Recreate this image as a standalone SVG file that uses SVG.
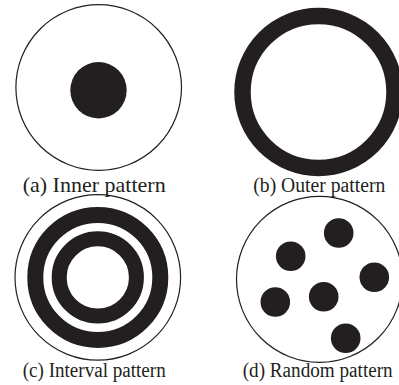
<svg xmlns="http://www.w3.org/2000/svg" width="399" height="385" viewBox="0 0 399 385">
  <style>
    .thin { fill: none; stroke: #231f20; stroke-width: 1.2; }
    .band { fill: none; stroke: #231f20; }
    .dot { fill: #231f20; }
    .lbl { font-family: "Liberation Serif", "Times New Roman", serif; font-size: 20px; fill: #231f20; }
  </style>
  <rect width="399" height="385" fill="#ffffff"/>
  <g id="panel-a">
    <circle class="thin" cx="98.7" cy="87.5" r="82.8"/>
    <circle class="dot" cx="98.5" cy="90.3" r="28.2"/>
    <text class="lbl" x="22.7" y="191.5" font-size="21.5" style="font-size:21.5px" textLength="143" lengthAdjust="spacingAndGlyphs">(a) Inner pattern</text>
  </g>
  <g id="panel-b">
    <circle class="band" cx="318.5" cy="92" r="76" stroke-width="16.5"/>
    <text class="lbl" x="253.3" y="191.5" textLength="132" lengthAdjust="spacingAndGlyphs">(b) Outer pattern</text>
  </g>
  <g id="panel-c">
    <circle class="thin" cx="97.8" cy="277.4" r="82.8"/>
    <circle class="band" cx="97.8" cy="277.4" r="62.5" stroke-width="16"/>
    <circle class="band" cx="97.8" cy="277.4" r="38.6" stroke-width="15"/>
    <text class="lbl" x="22.7" y="377" textLength="143" lengthAdjust="spacingAndGlyphs">(c) Interval pattern</text>
  </g>
  <g id="panel-d">
    <circle class="thin" cx="319.5" cy="279.3" r="83"/>
    <circle class="dot" cx="338.7" cy="233" r="14.8"/>
    <circle class="dot" cx="290.7" cy="256.3" r="14.8"/>
    <circle class="dot" cx="374.3" cy="277.3" r="14.8"/>
    <circle class="dot" cx="275.3" cy="302" r="14.8"/>
    <circle class="dot" cx="323.7" cy="296.7" r="14.8"/>
    <circle class="dot" cx="345.7" cy="338.3" r="14.8"/>
    <text class="lbl" x="242.7" y="377" textLength="150" lengthAdjust="spacingAndGlyphs">(d) Random pattern</text>
  </g>
</svg>
